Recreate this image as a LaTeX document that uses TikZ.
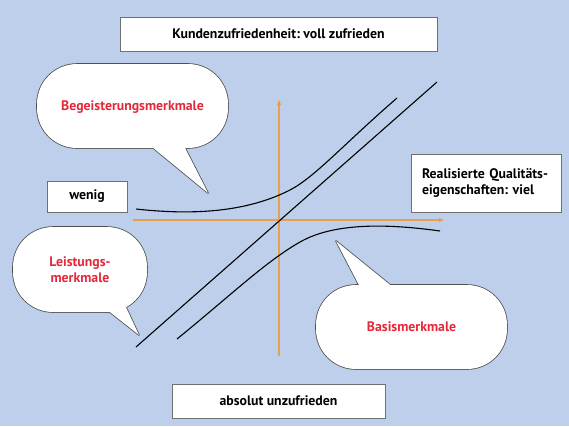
\documentclass[tikz,border=0pt]{standalone}
\usepackage{fontspec}
\setmainfont{PT Sans}
\usetikzlibrary{arrows.meta}
\frenchspacing
\definecolor{bg}{HTML}{BDCFEB}
\definecolor{axiscol}{HTML}{E9A04E}
\definecolor{redtxt}{HTML}{E5283A}
\definecolor{boxline}{HTML}{707070}
\definecolor{bubbleline}{HTML}{505050}
\begin{document}
\begin{tikzpicture}[x=1pt,y=-1pt,
  labelbox/.style={draw=boxline, line width=0.9pt, fill=white, inner sep=0pt,
    font=\bfseries\fontsize{13.8}{16}\selectfont},
  bubbletext/.style={text=redtxt, font=\bfseries\fontsize{13.8}{16}\selectfont, align=center},
  bubbleedge/.style={draw=bubbleline, line width=1.6pt, line join=round},
  curveline/.style={line width=1.1pt, draw=black},
  axisline/.style={draw=axiscol, line width=1.1pt, -{Triangle[length=5pt,width=4pt]}},
]
\fill[bg] (0,0) rectangle (569,426);
\useasboundingbox (0,0) rectangle (569,426);

% boxes
\node[labelbox, minimum width=317pt, minimum height=34pt] (top) at (278.5,34) {Kundenzufriedenheit: voll zufrieden};
\node[labelbox, minimum width=80pt, minimum height=31pt] (wenig) at (87,196.5) {wenig};
\node[labelbox, minimum width=150pt, minimum height=58pt, text width=128pt, align=left] (viel) at (486,183) {Realisierte Qualitäts-\\eigenschaften: viel};
\node[labelbox, minimum width=213pt, minimum height=34pt] (bottom) at (278.5,401) {absolut unzufrieden};

% bubble 1: Begeisterungsmerkmale
\path[bubbleedge, rounded corners=40pt] (37,64) rectangle (228,148);
\path[bubbleedge] (149,144.5) -- (208,193) -- (183,144) -- cycle;
\fill[white, rounded corners=40pt] (37,64) rectangle (228,148);
\fill[white] (149,144.5) -- (208,193) -- (183,144) -- cycle;
\node[bubbletext] (begeist) at (132.5,107) {Begeisterungsmerkmale};

% bubble 2: Leistungsmerkmale
\path[bubbleedge, rounded corners=40pt] (13,227) rectangle (147,312);
\path[bubbleedge] (106,309) -- (139,335) -- (124,303) -- cycle;
\fill[white, rounded corners=40pt] (13,227) rectangle (147,312);
\fill[white] (106,309) -- (139,335) -- (124,303) -- cycle;
\node[bubbletext] (leist) at (80,270) {Leistungs-\\merkmale};

% bubble 3: Basismerkmale
\path[bubbleedge, rounded corners=40pt] (316,285) rectangle (507,369);
\path[bubbleedge] (361,289) -- (336,241) -- (394,288) -- cycle;
\fill[white, rounded corners=40pt] (316,285) rectangle (507,369);
\fill[white] (361,289) -- (336,241) -- (394,288) -- cycle;
\node[bubbletext] (basis) at (411.5,327) {Basismerkmale};

% axes
\coordinate (vbot) at (279,356);
\coordinate (vtop) at (279,100);
\coordinate (hleft) at (133,220);
\coordinate (hright) at (444,220);
\draw[axisline] (vbot) -- (vtop);
\draw[axisline] (hleft) -- (hright);

% curves
\coordinate (l1) at (136,347);
\coordinate (l2) at (437,82);
\draw[curveline] (l1) -- (l2);

\coordinate (b0) at (136,209);
\coordinate (b1) at (290,190);
\coordinate (b2) at (397,98);
\draw[curveline] (b0) .. controls (190,215) and (245,213) .. (b1)
                      .. controls (315,177) and (345,143) .. (b2);

\coordinate (s0) at (177,339);
\coordinate (s1) at (300,242);
\coordinate (s2) at (440,231);
\draw[curveline] (s0) .. controls (230,296) and (265,262) .. (s1)
                      .. controls (335,222) and (390,224) .. (s2);
\end{tikzpicture}
\end{document}
